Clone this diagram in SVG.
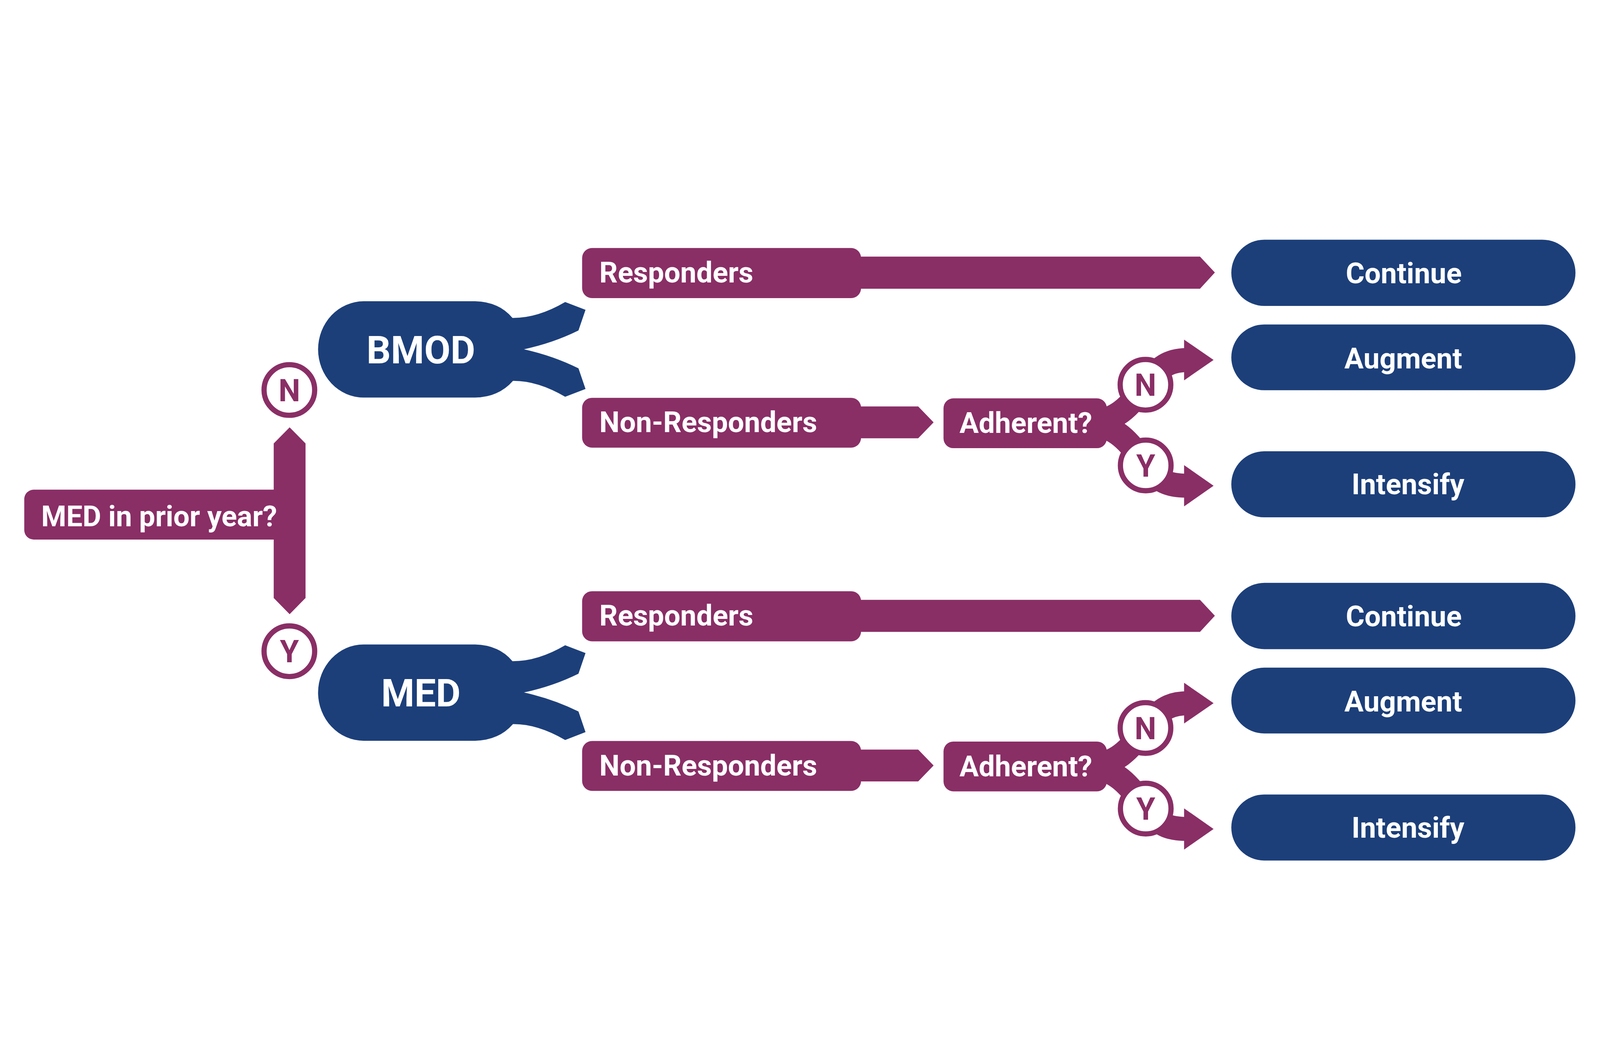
<svg xmlns="http://www.w3.org/2000/svg" width="6132" height="2713" viewBox="0 0 6132 2713" style="width:100%;height:100%">
<style>
.p{fill:#8A2E66}
.b{fill:#1C3F7A}
.br{fill:none;stroke:#8A2E66;stroke-width:92}
.c{fill:#ffffff;stroke:#8A2E66;stroke-width:20}
.t{font-family:Roboto,"Liberation Sans",sans-serif;font-weight:700;fill:#ffffff;font-size:110px}
.tb{font-family:Roboto,"Liberation Sans",sans-serif;font-weight:700;fill:#ffffff;font-size:110px;text-anchor:middle}
.tm{font-family:Roboto,"Liberation Sans",sans-serif;font-weight:700;fill:#ffffff;font-size:146px;text-anchor:middle}
.tc{font-family:Roboto,"Liberation Sans",sans-serif;font-weight:700;fill:#8A2E66;font-size:118px;text-anchor:middle}
</style>
<defs>
<path id="treat" d="M1394 480 L1821 480 Q1912 482 1964 544 Q2060 545 2166 483 L2244 513 L2217 592 Q2120 640 2008 664 Q2120 689 2217 737 L2244 816 L2166 846 Q2060 784 1966 785 Q1912 847 1821 849 L1394 849 A175 185 0 0 1 1219 664.5 A175 185 0 0 1 1394 480 Z"/>
<g id="branchset">
<path class="br" d="M4150 947 C4280 947 4330 880 4390 800 C4450 720 4490 705 4560 705"/>
<polygon class="p" points="4538,627 4651,705 4538,783"/>
<path class="br" d="M4150 947 C4280 947 4335 1030 4391 1109 C4447 1180 4490 1187 4560 1187"/>
<polygon class="p" points="4538,1108 4651,1187 4538,1266"/>
</g>
</defs>

<g id="connectors">
<polygon id="med-bar" class="p" points="1110,963 1171,1025 1171,1617 1110,1679 1049,1617 1049,1025"/>
<polygon id="resp-arrow-top" class="p" points="3290,309 4599,309 4656,370 4599,432 3290,432"/>
<polygon id="nonresp-arrow-top" class="p" points="3290,883 3519,883 3578,944 3519,1005 3290,1005"/>
<use id="adherent-branches-top" href="#branchset"/>
<polygon id="resp-arrow-bottom" class="p" points="3290,1624 4599,1624 4656,1685 4599,1747 3290,1747"/>
<polygon id="nonresp-arrow-bottom" class="p" points="3290,2198 3519,2198 3578,2259 3519,2320 3290,2320"/>
<use id="adherent-branches-bottom" href="#branchset" transform="translate(0,1315)"/>
</g>

<g id="med-question">
<rect class="p" x="93" y="1202" width="1030" height="191" rx="36"/>
<text class="t" x="158" y="1342">MED in prior year?</text>
</g>

<g id="circle-n-left">
<circle class="c" cx="1109" cy="820" r="97"/>
<text class="tc" x="1109" y="863">N</text>
</g>
<g id="circle-y-left">
<circle class="c" cx="1109" cy="1821" r="97"/>
<text class="tc" x="1109" y="1864">Y</text>
</g>

<g id="bmod">
<use href="#treat" class="b"/>
<text class="tm" x="1613" y="718">BMOD</text>
</g>
<g id="med">
<use href="#treat" class="b" transform="translate(0,1315)"/>
<text class="tm" x="1613" y="2033">MED</text>
</g>

<g id="responders-top">
<rect class="p" x="2231" y="276" width="1069" height="192" rx="38"/>
<text class="t" x="2297" y="408">Responders</text>
</g>
<g id="nonresponders-top">
<rect class="p" x="2231" y="850" width="1069" height="191" rx="38"/>
<text class="t" x="2297" y="982">Non-Responders</text>
</g>
<g id="adherent-top">
<rect class="p" x="3616" y="852" width="626" height="191" rx="38"/>
<text class="t" x="3677" y="985">Adherent?</text>
</g>
<g id="circle-n-top">
<circle class="c" cx="4390" cy="800" r="97"/>
<text class="tc" x="4390" y="843">N</text>
</g>
<g id="circle-y-top">
<circle class="c" cx="4391" cy="1109" r="97"/>
<text class="tc" x="4391" y="1152">Y</text>
</g>
<g id="continue-top">
<rect class="b" x="4719" y="244" width="1319" height="254" rx="127"/>
<text class="tb" x="5380" y="411">Continue</text>
</g>
<g id="augment-top">
<rect class="b" x="4719" y="569" width="1319" height="252" rx="126"/>
<text class="tb" x="5378" y="737">Augment</text>
</g>
<g id="intensify-top">
<rect class="b" x="4719" y="1055" width="1319" height="253" rx="126"/>
<text class="tb" x="5396" y="1220">Intensify</text>
</g>

<g id="responders-bottom">
<rect class="p" x="2231" y="1591" width="1069" height="192" rx="38"/>
<text class="t" x="2297" y="1723">Responders</text>
</g>
<g id="nonresponders-bottom">
<rect class="p" x="2231" y="2165" width="1069" height="191" rx="38"/>
<text class="t" x="2297" y="2297">Non-Responders</text>
</g>
<g id="adherent-bottom">
<rect class="p" x="3616" y="2167" width="626" height="191" rx="38"/>
<text class="t" x="3677" y="2300">Adherent?</text>
</g>
<g id="circle-n-bottom">
<circle class="c" cx="4390" cy="2115" r="97"/>
<text class="tc" x="4390" y="2158">N</text>
</g>
<g id="circle-y-bottom">
<circle class="c" cx="4391" cy="2424" r="97"/>
<text class="tc" x="4391" y="2467">Y</text>
</g>
<g id="continue-bottom">
<rect class="b" x="4719" y="1559" width="1319" height="254" rx="127"/>
<text class="tb" x="5380" y="1726">Continue</text>
</g>
<g id="augment-bottom">
<rect class="b" x="4719" y="1884" width="1319" height="252" rx="126"/>
<text class="tb" x="5378" y="2052">Augment</text>
</g>
<g id="intensify-bottom">
<rect class="b" x="4719" y="2370" width="1319" height="253" rx="126"/>
<text class="tb" x="5396" y="2535">Intensify</text>
</g>
</svg>
